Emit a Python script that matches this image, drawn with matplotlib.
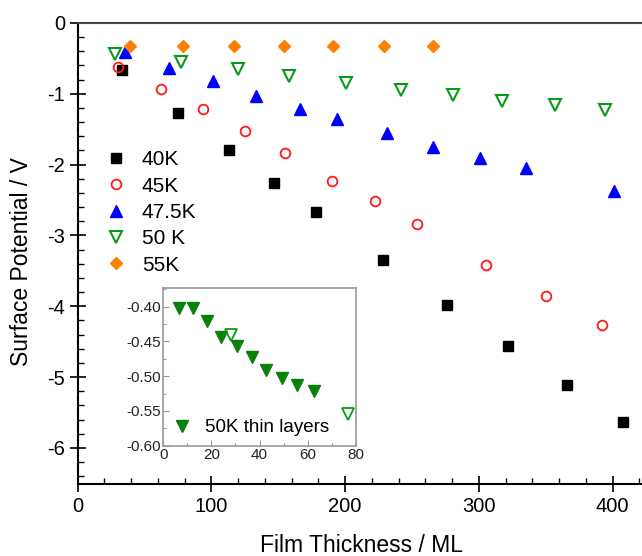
import matplotlib
matplotlib.use("Agg")
import matplotlib.pyplot as plt
from matplotlib.ticker import MultipleLocator, FormatStrFormatter

plt.rcParams["font.family"] = ["Liberation Sans", "DejaVu Sans"]
plt.rcParams["axes.unicode_minus"] = False

# main data: film thickness (ML) vs surface potential (V)
thick_40 = [33, 75, 113, 147, 178, 228, 276, 322, 366, 408]
v_40 = [-0.66, -1.27, -1.79, -2.26, -2.67, -3.34, -3.98, -4.56, -5.11, -5.63]

thick_45 = [30, 62, 94, 125, 155, 190, 222, 254, 305, 350, 392]
v_45 = [-0.62, -0.93, -1.21, -1.53, -1.83, -2.23, -2.51, -2.84, -3.42, -3.85, -4.26]

thick_475 = [35, 68, 101, 133, 166, 194, 231, 266, 301, 335, 401]
v_475 = [-0.41, -0.64, -0.82, -1.03, -1.22, -1.36, -1.56, -1.75, -1.91, -2.05, -2.37]

thick_50 = [28, 77, 120, 158, 201, 242, 281, 317, 357, 394]
v_50 = [-0.44, -0.555, -0.65, -0.75, -0.85, -0.95, -1.02, -1.10, -1.16, -1.23]

thick_55 = [39, 79, 117, 154, 191, 229, 266]
v_55 = [-0.33, -0.33, -0.33, -0.33, -0.33, -0.33, -0.33]

# inset: 50K thin layers
thin_x = [6.5, 12.2, 18.0, 24.0, 30.5, 36.8, 42.6, 49.2, 55.8, 62.6]
thin_v = [-0.402, -0.402, -0.421, -0.444, -0.457, -0.472, -0.491, -0.502, -0.512, -0.522]

W, H = 642, 556
fig = plt.figure(figsize=(W / 100, H / 100), dpi=100)
ax = fig.add_axes([77.7 / W, 1 - 484 / H, 1 - 77.7 / W, (484 - 23) / H])

ax.plot(thick_40, v_40, "s", color="black", ms=6.5, label="40K")
ax.plot(thick_45, v_45, "o", mfc="none", mec="#ff1a1a", mew=1.3, ms=7, label="45K")
ax.plot(thick_475, v_475, "^", color="#0000ff", ms=8, label="47.5K")
ax.plot(thick_50, v_50, "v", mfc="none", mec="#0a9a1a", mew=1.5, ms=8, label="50 K")
ax.plot(thick_55, v_55, "D", color="#ff8000", ms=6.5, label="55K")

ax.set_xlim(0, 422)
ax.set_ylim(-6.51, 0)
ax.xaxis.set_major_locator(MultipleLocator(100))
ax.xaxis.set_minor_locator(MultipleLocator(20))
ax.yaxis.set_major_locator(MultipleLocator(1))
ax.yaxis.set_minor_locator(MultipleLocator(0.2))
ax.tick_params(which="major", direction="inout", length=12, width=1.2,
               labelsize=14.5, pad=3)
ax.tick_params(which="minor", direction="in", length=4, width=1.0)
ax.spines["right"].set_visible(False)
ax.spines["top"].set_color("#444444")
for s in ["left", "bottom", "top"]:
    ax.spines[s].set_linewidth(1.5)

leg = ax.legend(loc="upper left", bbox_to_anchor=(95 / W, 1 - 140 / H),
                bbox_transform=fig.transFigure, frameon=False, fontsize=15,
                handletextpad=0.75, labelspacing=0.35, handlelength=1.0,
                borderpad=0)

fig.text(22 / W, 1 - 262 / H, "Surface Potential / V", rotation=90,
         ha="center", va="center", fontsize=16.5)
fig.text(362 / W, 1 - 545 / H, "Film Thickness / ML", ha="center",
         va="center", fontsize=16.5)

# inset
ins = fig.add_axes([163.3 / W, 1 - 445.7 / H, (355.7 - 163.3) / W,
                    (445.7 - 288.3) / H])
ins.plot(thin_x, thin_v, "v", color="#0a7f0a", ms=9, label="50K thin layers")
ins.plot(thick_50[:2], v_50[:2], "v", mfc="none", mec="#0a9a1a", mew=1.3,
         ms=8)
ins.set_xlim(0, 80)
ins.set_ylim(-0.60, -0.3735)
ins.xaxis.set_major_locator(MultipleLocator(20))
ins.xaxis.set_minor_locator(MultipleLocator(10))
ins.yaxis.set_major_locator(MultipleLocator(0.05))
ins.yaxis.set_minor_locator(MultipleLocator(0.025))
ins.yaxis.set_major_formatter(FormatStrFormatter("%.2f"))
ins.tick_params(which="major", direction="in", length=4, width=0.8,
                labelsize=11, pad=2, colors="#999999", labelcolor="#222222")
ins.tick_params(which="minor", direction="in", length=2.5, width=0.8,
                colors="#999999")
for s in ins.spines.values():
    s.set_color("#999999")
    s.set_linewidth(1.2)
ins.legend(loc="lower left", frameon=False, fontsize=13.5, handlelength=1.0,
           handletextpad=0.7, borderpad=0.3, borderaxespad=0.2)

fig.savefig("out.png", dpi=100)
